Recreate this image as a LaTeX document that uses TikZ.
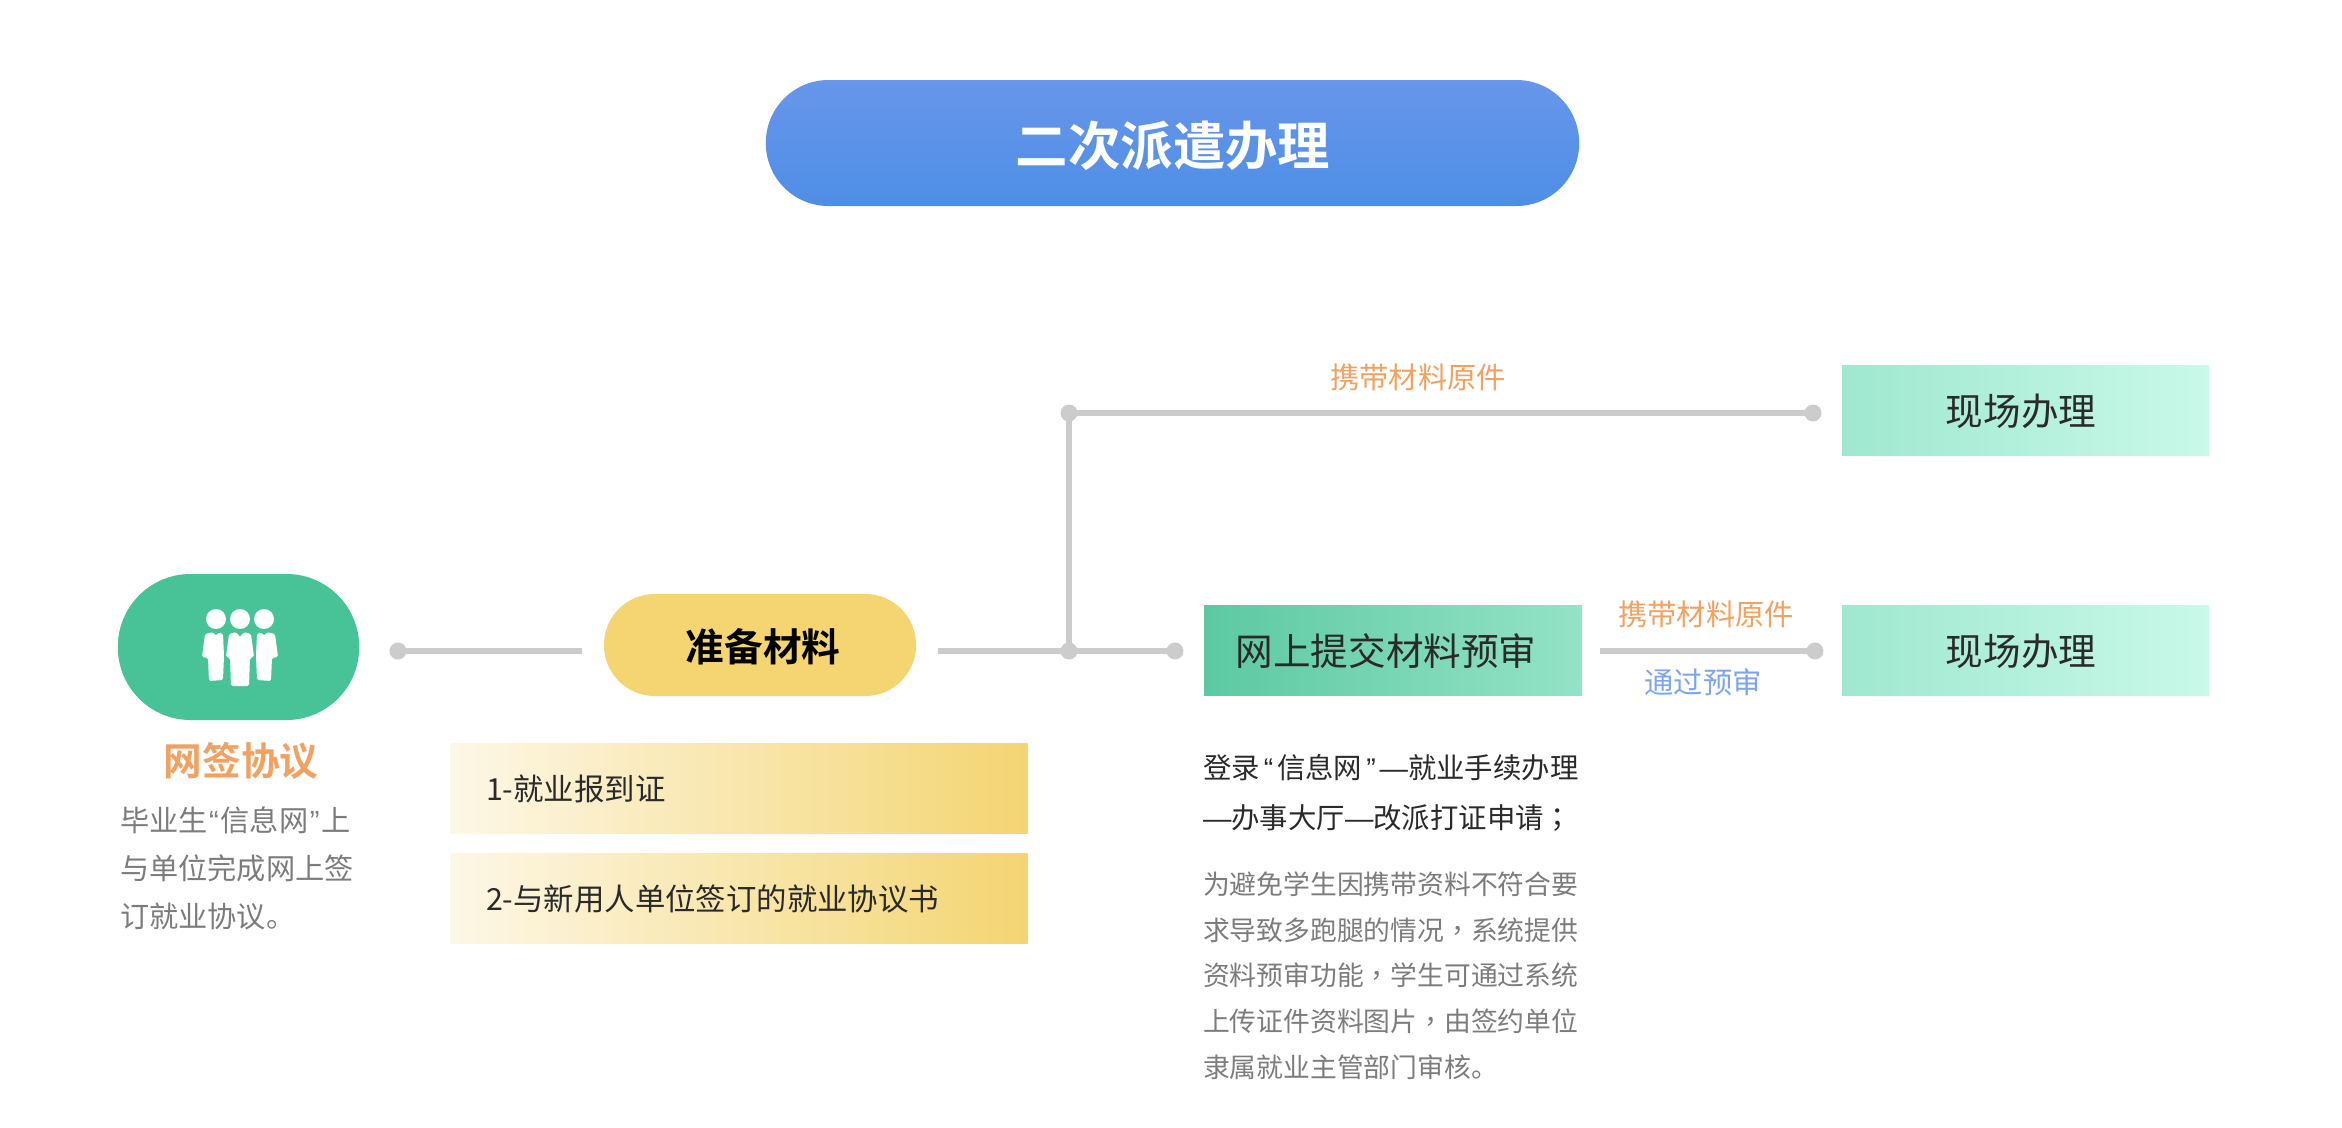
\documentclass[tikz,border=0pt]{standalone}
\usepackage{fontspec}
\setmainfont{Noto Sans CJK SC}
\newfontfamily\cjkbold{Noto Sans CJK SC Bold}
\newfontfamily\latinq{Liberation Sans}
\newfontfamily\tcpunct{Noto Sans CJK TC}
\newcommand{\qopen}[1][13pt]{\makebox[#1][c]{\latinq “}}
\newcommand{\qclose}[1][13pt]{\makebox[#1][c]{\latinq ”}}
\newcommand{\longdash}{{\latinq —}}
\newcommand{\ctcomma}{{\tcpunct ，}}
\newcommand{\ctsemi}{{\tcpunct ；}}
\definecolor{linegrey}{HTML}{CCCCCC}
\definecolor{orangetxt}{HTML}{F0A263}
\definecolor{bluetxt}{HTML}{7DA5EE}
\definecolor{greytxt}{HTML}{7C7C7C}
\definecolor{darktxt}{HTML}{2A2A2A}
\definecolor{pillgreen}{HTML}{48C297}
\definecolor{pillyellow}{HTML}{F4D572}
\definecolor{FDF7E6}{HTML}{FDF7E6}
\definecolor{9FE8CF}{HTML}{9FE8CF}
\definecolor{C9F9E9}{HTML}{C9F9E9}
\definecolor{titletop}{HTML}{6796EA}
\definecolor{titlebot}{HTML}{4F8EE6}
\definecolor{netleft}{HTML}{5CC9A2}
\definecolor{netright}{HTML}{94E3C7}
\tikzset{
  every node/.style={inner sep=0pt,outer sep=0pt},
  wire/.style={draw=linegrey,line width=4.8pt},
  dotnode/.style={circle,fill=linegrey,minimum size=12.75pt},
  bigtext/.style={font=\fontsize{28.2pt}{34pt}\selectfont,text=darktxt},
  smalltext/.style={font=\fontsize{22pt}{30pt}\selectfont},
  graypara/.style={font=\fontsize{20.1pt}{34.2pt}\selectfont,text=greytxt,align=left,anchor=west},
  yellowbar/.style={rectangle,minimum width=433pt,minimum height=67pt,left color=FDF7E6,right color=pillyellow},
  bartext/.style={anchor=west,font=\fontsize{22.8pt}{30pt}\selectfont,text=darktxt},
  sitebox/.style={rectangle,minimum width=275.25pt,minimum height=67pt,left color=9FE8CF,right color=C9F9E9},
}
\begin{document}
\begin{tikzpicture}[x=0.75pt,y=-0.75pt]
\useasboundingbox (0,0) rectangle (2342,1128);
% title
\node[rectangle,rounded corners=47pt,minimum width=610pt,minimum height=94.5pt,top color=titletop,bottom color=titlebot] (title) at (1172.5,143) {};
\node[text=white,font=\cjkbold\fontsize{39.3pt}{44pt}\selectfont] (titlet) at (1173,145.5) {二次派遣办理};
% left pill
\node[rectangle,rounded corners=54.5pt,minimum width=181pt,minimum height=109.5pt,fill=pillgreen] (sign) at (238.5,647) {};
% icon
\begin{scope}[fill=white]
\fill (216,619) circle (10);
\fill (240,619) circle (10);
\fill (264,619) circle (10);
\fill[rounded corners=1.2pt] (205,634) -- (213,632) -- (216,636) -- (219,632) -- (223,634) -- (224,656) -- (223,680) -- (209,681) -- (208,658) -- (202,657) -- cycle;
\fill[rounded corners=1.2pt] (229,634) -- (236,632) -- (240,637) -- (244,632) -- (251,634) -- (254,657) -- (250,658) -- (249,686) -- (231,686) -- (230,658) -- (226,657) -- cycle;
\fill[rounded corners=1.2pt] (275,634) -- (267,632) -- (264,636) -- (261,632) -- (257,634) -- (256,656) -- (257,680) -- (271,681) -- (272,658) -- (278,657) -- cycle;
\end{scope}
\node[font=\cjkbold\fontsize{29pt}{34pt}\selectfont,text=orangetxt] (signtitle) at (241,760.5) {网签协议};
\node[graypara,font=\fontsize{21.9pt}{36pt}\selectfont] (signtext) at (120,868.5) {毕业生\qopen[9.75pt]信息网\qclose[9.75pt]上\\与单位完成网上签\\订就业协议。};
% prepare
\node[rectangle,rounded corners=38pt,minimum width=234pt,minimum height=76.5pt,fill=pillyellow] (prep) at (760,645) {};
\node[text=black,font=\cjkbold\fontsize{29pt}{34pt}\selectfont] (prept) at (763,646.5) {准备材料};
\node[yellowbar] (bar1) at (739,788.5) {};
\node[yellowbar] (bar2) at (739,898.5) {};
\node[bartext] (bar1t) at (486,789) {1-就业报到证};
\node[bartext] (bar2t) at (486,899) {2-与新用人单位签订的就业协议书};
% boxes
\node[rectangle,minimum width=283.5pt,minimum height=67pt,left color=netleft,right color=netright] (net) at (1393,650.5) {};
\node[bigtext] (nett) at (1386,651) {网上提交材料预审};
\node[sitebox] (site1) at (2025.5,410.5) {};
\node[sitebox] (site2) at (2025.5,650.5) {};
\node[bigtext] (site1t) at (2021,411) {现场办理};
\node[bigtext] (site2t) at (2021,651) {现场办理};
% connectors
\node[dotnode] (d0) at (398,651) {};
\coordinate (e0) at (582,651);
\coordinate (s1) at (938,651);
\node[dotnode] (j) at (1069,651) {};
\node[dotnode] (up) at (1069,413) {};
\node[dotnode] (upr) at (1813,413) {};
\node[dotnode] (d2) at (1175,651) {};
\coordinate (s3) at (1600,651);
\node[dotnode] (d3) at (1815,651) {};
\draw[wire] (d0.center) -- (e0);
\draw[wire] (s1) -- (d2.center);
\draw[wire] (j.center) -- (up.center) -- (upr.center);
\draw[wire] (s3) -- (d3.center);
% labels
\node[smalltext,text=orangetxt] (l1) at (1418,377) {携带材料原件};
\node[smalltext,text=orangetxt] (l2) at (1706,614) {携带材料原件};
\node[smalltext,text=bluetxt] (l3) at (1703,682) {通过预审};
% right paragraph
\node[font=\fontsize{21.3pt}{37.5pt}\selectfont,text=darktxt,align=left,anchor=west] (lead) at (1203,793) {登录\qopen 信息网\qclose\longdash 就业手续办理\\\longdash 办事大厅\longdash 改派打证申请\ctsemi};
\node[graypara] (body) at (1203,975.5) {为避免学生因携带资料不符合要\\求导致多跑腿的情况\ctcomma 系统提供\\资料预审功能\ctcomma 学生可通过系统\\上传证件资料图片\ctcomma 由签约单位\\隶属就业主管部门审核。};
\end{tikzpicture}
\end{document}
